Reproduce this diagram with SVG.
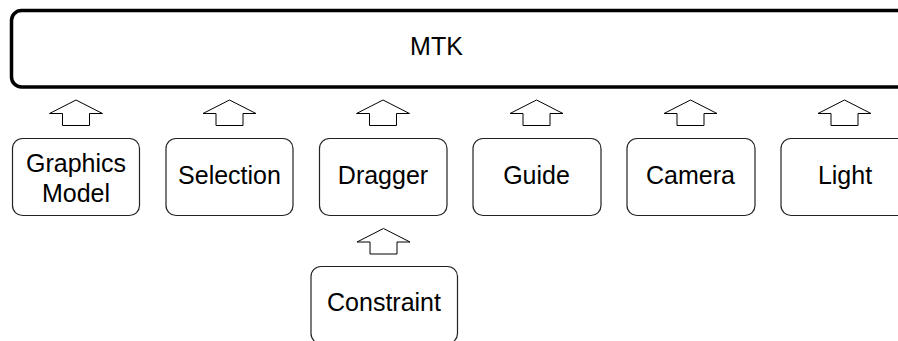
<svg xmlns="http://www.w3.org/2000/svg" width="898" height="341" viewBox="0 0 898 341">
  <style>
    .frame { fill: #ffffff; stroke: #000000; stroke-width: 3.5; }
    .box { fill: #ffffff; stroke: #222222; stroke-width: 1.2; }
    .lbl { font-family: "Liberation Sans", Arial, sans-serif; font-size: 25px; fill: #000000; text-anchor: middle; }
    .up { fill: #ffffff; stroke: #000000; stroke-width: 1; stroke-linejoin: miter; }
  </style>
  <defs>
    <!-- hollow block arrow pointing up, tip at (0,0) -->
    <polygon id="uparrow" class="up" points="0,0 26.5,13.5 13.5,13.5 13.5,25.5 -13.5,25.5 -13.5,13.5 -26.5,13.5"/>
  </defs>
  <rect width="898" height="341" fill="#ffffff"/>

  <g id="mtk">
    <rect class="frame" x="11.5" y="10.5" width="920" height="76.5" rx="10" ry="10"/>
    <text class="lbl" x="436.5" y="55">MTK</text>
  </g>

  <g id="connectors">
    <use href="#uparrow" x="76" y="100"/>
    <use href="#uparrow" x="229.5" y="100"/>
    <use href="#uparrow" x="383" y="100"/>
    <use href="#uparrow" x="536.5" y="100"/>
    <use href="#uparrow" x="690.5" y="100"/>
    <use href="#uparrow" x="844.5" y="100"/>
    <use href="#uparrow" x="383.5" y="228.5"/>
  </g>

  <g id="graphics-model">
    <rect class="box" x="12.5" y="138.5" width="127" height="77" rx="10" ry="10"/>
    <text class="lbl" x="76" y="171.5">Graphics</text>
    <text class="lbl" x="76" y="201.5">Model</text>
  </g>
  <g id="selection">
    <rect class="box" x="166" y="138.5" width="127" height="77" rx="10" ry="10"/>
    <text class="lbl" x="229.5" y="184">Selection</text>
  </g>
  <g id="dragger">
    <rect class="box" x="319.5" y="138.5" width="127.5" height="77" rx="10" ry="10"/>
    <text class="lbl" x="383" y="184">Dragger</text>
  </g>
  <g id="guide">
    <rect class="box" x="473" y="138.5" width="128" height="77" rx="10" ry="10"/>
    <text class="lbl" x="536.5" y="184">Guide</text>
  </g>
  <g id="camera">
    <rect class="box" x="627" y="138.5" width="128" height="77" rx="10" ry="10"/>
    <text class="lbl" x="690.5" y="184">Camera</text>
  </g>
  <g id="light">
    <rect class="box" x="781" y="138.5" width="128" height="77" rx="10" ry="10"/>
    <text class="lbl" x="845" y="184">Light</text>
  </g>
  <g id="constraint">
    <rect class="box" x="311" y="266.5" width="146.5" height="77" rx="10" ry="10"/>
    <text class="lbl" x="384" y="311">Constraint</text>
  </g>
</svg>
